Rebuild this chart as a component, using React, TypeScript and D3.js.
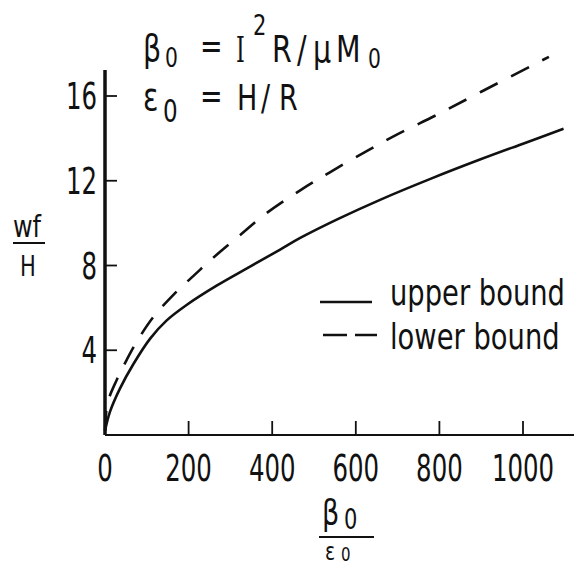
import React from 'react';
import * as d3 from 'd3';

// beta0/eps0 vs wf/H
const upperX = [0, 12, 36, 68, 108, 147, 196, 267, 347, 419, 467, 558, 658, 780, 897, 1000, 1097];
const upperY = [0.2, 1.1, 2.2, 3.35, 4.55, 5.4, 6.15, 7.05, 7.95, 8.75, 9.3, 10.2, 11.1, 12.1, 13.0, 13.75, 14.45];
const lowerX = [0, 6, 28, 52, 76, 115, 163, 211, 258, 321, 385, 467, 538, 626, 705, 793, 900, 1062];
const lowerY = [0.2, 1.5, 2.6, 3.55, 4.4, 5.55, 6.6, 7.5, 8.35, 9.4, 10.45, 11.55, 12.4, 13.4, 14.25, 15.1, 16.2, 17.85];
const xTicks = [0, 200, 400, 600, 800, 1000];
const yTicks = [4, 8, 12, 16];

const W = 574;
const H = 567;
const FONT = "'DejaVu Sans', sans-serif";
const SERIF = "'DejaVu Serif', serif";
const INK = '#111';

const toPts = (xs: number[], ys: number[]): [number, number][] => xs.map((v, i) => [v, ys[i]]);

// narrow stencil-like text: scale horizontally
const Narrow = ({ x, y, size, sx = 0.7, anchor = 'start', font = FONT, children }: any) => (
  <g transform={`translate(${x},${y}) scale(${sx},1)`}>
    <text fontSize={size} textAnchor={anchor} fill={INK} fontFamily={font}>{children}</text>
  </g>
);

export default function App() {
  const x = d3.scaleLinear().domain([0, 1000]).range([105, 523]);
  const y = d3.scaleLinear().domain([0, 16]).range([435, 96]);

  const line = d3.line<[number, number]>()
    .x(d => x(d[0]))
    .y(d => y(d[1]))
    .curve(d3.curveCatmullRom.alpha(0.5));

  return (
    <svg width={W} height={H} style={{ position: 'absolute', left: 0, top: 0 }}>
      <rect width={W} height={H} fill="#fff" />

      {/* axes */}
      <line x1={x(0)} x2={x(0)} y1={y(0)} y2={70} stroke={INK} strokeWidth={3.5} />
      <line x1={x(0)} x2={W} y1={y(0)} y2={y(0)} stroke={INK} strokeWidth={2.2} />
      {yTicks.map(t => (
        <g key={'y' + t}>
          <line x1={x(0)} x2={x(0) + 12} y1={y(t)} y2={y(t)} stroke={INK} strokeWidth={1.8} />
          <Narrow x={97} y={y(t) + 13} size={37} sx={0.66} anchor="end">{t}</Narrow>
        </g>
      ))}
      {xTicks.map(t => (
        <g key={'x' + t}>
          {t > 0 && <line x1={x(t)} x2={x(t)} y1={y(0)} y2={y(0) - 14} stroke={INK} strokeWidth={1.8} />}
          <Narrow x={x(t)} y={481} size={37} sx={0.66} anchor="middle">{t}</Narrow>
        </g>
      ))}

      {/* curves */}
      <path d={line(toPts(upperX, upperY)) || ''} fill="none" stroke={INK} strokeWidth={2.6} />
      <path d={line(toPts(lowerX, lowerY)) || ''} fill="none" stroke={INK} strokeWidth={2.6}
        strokeDasharray="20,15" />

      {/* legend */}
      <line x1={320} x2={372} y1={302} y2={302} stroke={INK} strokeWidth={2.6} />
      <line x1={323} x2={377} y1={335} y2={335} stroke={INK} strokeWidth={2.6} strokeDasharray="24,8" />
      <Narrow x={390} y={305} size={36} sx={0.76}>upper bound</Narrow>
      <Narrow x={390} y={349} size={36} sx={0.76}>lower bound</Narrow>

      {/* definitions */}
      <Narrow x={143} y={61} size={38} sx={0.75}>β</Narrow>
      <Narrow x={165} y={67} size={27} sx={0.75}>0</Narrow>
      <Narrow x={200} y={58} size={36} sx={0.75}>=</Narrow>
      <Narrow x={236} y={62} size={36} sx={0.62} font={SERIF}>I</Narrow>
      <Narrow x={253} y={35} size={28} sx={0.75}>2</Narrow>
      <Narrow x={272} y={62} size={38} sx={0.75}>R</Narrow>
      <Narrow x={297} y={62} size={38} sx={0.75}>/</Narrow>
      <Narrow x={313} y={62} size={38} sx={0.75}>μ</Narrow>
      <Narrow x={336} y={62} size={38} sx={0.75}>M</Narrow>
      <Narrow x={368} y={68} size={27} sx={0.75}>0</Narrow>

      <Narrow x={143} y={110} size={38} sx={0.75}>ε</Narrow>
      <Narrow x={163} y={122} size={32} sx={0.72}>0</Narrow>
      <Narrow x={200} y={108} size={36} sx={0.75}>=</Narrow>
      <Narrow x={237} y={110} size={36} sx={0.75}>H</Narrow>
      <Narrow x={261} y={110} size={36} sx={0.75}>/</Narrow>
      <Narrow x={279} y={110} size={36} sx={0.75}>R</Narrow>

      {/* y label */}
      <Narrow x={13} y={237} size={30} sx={0.8}>wf</Narrow>
      <line x1={13} x2={45} y1={243} y2={243} stroke={INK} strokeWidth={2} />
      <Narrow x={28} y={276} size={28} sx={0.75} anchor="middle">H</Narrow>

      {/* x label */}
      <Narrow x={322} y={525} size={36} sx={0.75}>β</Narrow>
      <Narrow x={344} y={529} size={28} sx={0.75}>0</Narrow>
      <line x1={319} x2={374} y1={537} y2={537} stroke={INK} strokeWidth={2} />
      <Narrow x={325} y={560} size={25} sx={0.75}>ε</Narrow>
      <Narrow x={341} y={561} size={20} sx={0.75}>0</Narrow>
    </svg>
  );
}
